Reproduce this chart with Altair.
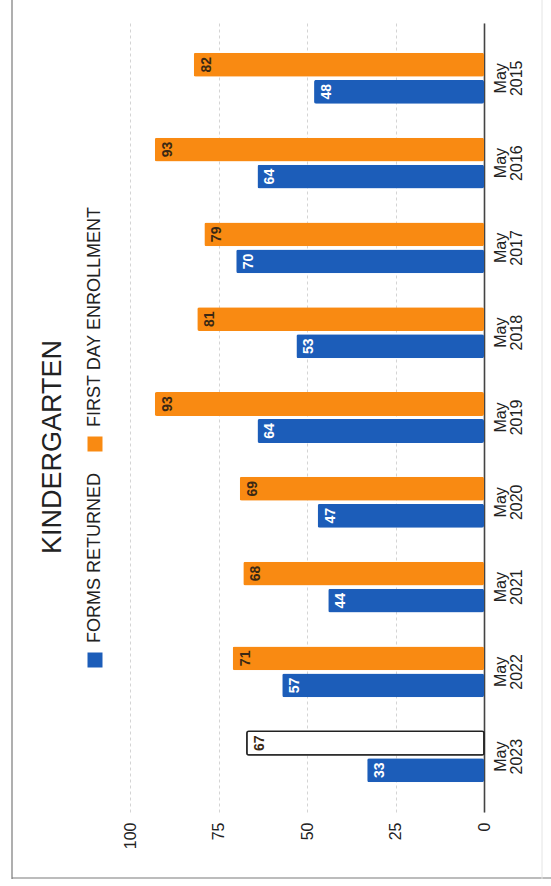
import altair as alt
import pandas as pd

# ---- data ----
years = ["May 2015", "May 2016", "May 2017", "May 2018", "May 2019",
         "May 2020", "May 2021", "May 2022", "May 2023"]
first_day_enrollment = [82, 93, 79, 81, 93, 69, 68, 71, 67]
forms_returned = [48, 64, 70, 53, 64, 47, 44, 57, 33]
series_names = ["FIRST DAY ENROLLMENT", "FORMS RETURNED"]
series_colors = ["#F98A12", "#1C5DB9"]
tick_values = [0, 25, 50, 75, 100]
chart_title = "KINDERGARTEN"

rows = []
for yr, e, f in zip(years, first_day_enrollment, forms_returned):
    rows.append({"year": yr, "series": series_names[0], "value": e})
    rows.append({"year": yr, "series": series_names[1], "value": f})
df = pd.DataFrame(rows)

FONT = "Liberation Sans"
W, H = 484, 789
PX_PER_UNIT = 3.54

color_scale = alt.Scale(domain=series_names, range=series_colors)
x_scale = alt.Scale(domain=[0, W / PX_PER_UNIT], reverse=True, nice=False, zero=True)
y_scale = alt.Scale(paddingInner=0.4, paddingOuter=0.352)
yoff_scale = alt.Scale(paddingInner=0.12, paddingOuter=0)

outline_test = f"datum.year == '{years[-1]}' && datum.series == '{series_names[0]}'"

x_enc = alt.X(
    "value:Q", scale=x_scale, title=None,
    axis=alt.Axis(values=tick_values, labelAngle=270, labelPadding=10, domain=False,
                  ticks=False, grid=True, gridDash=[3, 3], gridColor="#d4d4d4",
                  labelFontSize=16, labelColor="#222", labelFont=FONT),
)
y_enc = alt.Y(
    "year:N", sort=years, scale=y_scale, title=None,
    axis=alt.Axis(orient="right", domain=True, domainColor="#444", domainWidth=1.6,
                  ticks=False, grid=False, labelAngle=270, labelAlign="center",
                  labelBaseline="top", labelPadding=8, labelFontSize=16,
                  labelLineHeight=16, labelExpr="split(datum.label, ' ')",
                  labelColor="#222", labelFont=FONT),
)
yoff_enc = alt.YOffset("series:N", sort=series_names, scale=yoff_scale)

bars = alt.Chart(df).mark_bar(cornerRadius=2, strokeWidth=1.5).encode(
    x=x_enc,
    y=y_enc,
    yOffset=yoff_enc,
    fill=alt.condition(outline_test, alt.value("white"),
                       alt.Color("series:N", scale=color_scale, legend=None)),
    stroke=alt.condition(outline_test, alt.value("#222"), alt.value("transparent")),
)

labels = alt.Chart(df).mark_text(angle=270, align="center", baseline="middle",
                                 dy=13, fontSize=14, fontWeight="bold", font=FONT).encode(
    x=alt.X("value:Q", scale=x_scale),
    y=alt.Y("year:N", sort=years, scale=y_scale),
    yOffset=yoff_enc,
    text="value:Q",
    color=alt.condition(f"datum.series == '{series_names[1]}'",
                        alt.value("white"), alt.value("#3a2814")),
)

# title (rotated, as in the reference)
title_layer = alt.Chart(pd.DataFrame({"t": [chart_title]})).mark_text(
    angle=270, align="center", baseline="middle", fontSize=27, font=FONT, color="#222"
).encode(x=alt.value(53), y=alt.value(424), text="t:N")

# manual rotated legend
legend_layers = []
for name, ypos in zip(series_names, [421, 637]):
    one = pd.DataFrame({"series": [name]})
    legend_layers.append(
        alt.Chart(one).mark_square(size=225, opacity=1).encode(
            x=alt.value(95), y=alt.value(ypos),
            color=alt.Color("series:N", scale=color_scale, legend=None))
    )
    legend_layers.append(
        alt.Chart(one).mark_text(angle=270, align="left", baseline="middle",
                                 fontSize=18, font=FONT, color="#222").encode(
            x=alt.value(95), y=alt.value(ypos - 17), text="series:N")
    )

# scanned page frame
frame_left = alt.Chart(pd.DataFrame({"k": [0]})).mark_rule(color="#7a7a7a", strokeWidth=1.2).encode(
    x=alt.value(12), y=alt.value(-23), y2=alt.value(856))
frame_bottom = alt.Chart(pd.DataFrame({"k": [0]})).mark_rule(color="#7a7a7a", strokeWidth=1.2).encode(
    x=alt.value(12), x2=alt.value(551), y=alt.value(855))
frame_right = alt.Chart(pd.DataFrame({"k": [0]})).mark_rule(color="#e4e4e4", strokeWidth=1).encode(
    x=alt.value(542), y=alt.value(-23), y2=alt.value(856))

chart = alt.layer(
    frame_left, frame_bottom, frame_right, bars, labels, title_layer, *legend_layers
).resolve_scale(color="shared").properties(
    width=W, height=H, autosize="none",
    padding={"left": 0, "top": 23, "right": 67, "bottom": 74},
    background="white",
).configure(font=FONT).configure_view(stroke="transparent", strokeWidth=0)

chart.save("out.html", embed_options={"renderer": "svg", "actions": False})
